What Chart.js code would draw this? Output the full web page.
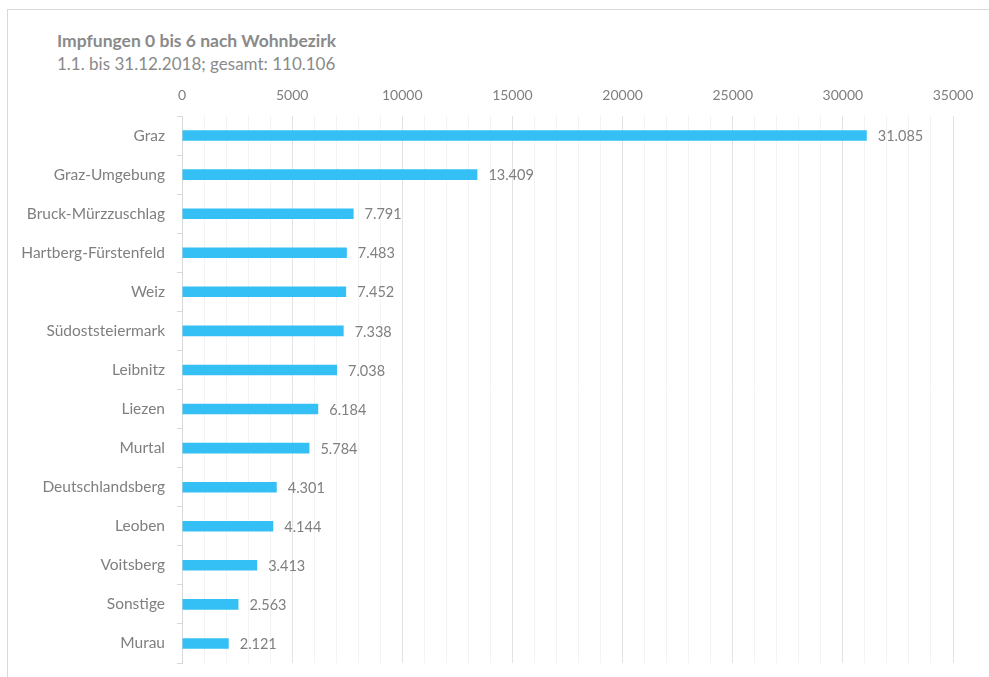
<!DOCTYPE html>
<html lang="de">
<head>
<meta charset="utf-8">
<title>Impfungen 0 bis 6 nach Wohnbezirk</title>
<script src="https://cdn.jsdelivr.net/npm/chart.js@4/dist/chart.umd.min.js"></script>
<style>
  html, body { margin: 0; padding: 0; background: #fff; }
  body { width: 989px; height: 677px; position: relative; overflow: hidden; font-family: Lato, sans-serif; }
  .frame { position: absolute; left: 7px; top: 9px; width: 1000px; height: 700px; border-left: 1px solid #d9d9d9; border-top: 1px solid #d9d9d9; }
  .title { position: absolute; left: 57px; top: 29px; color: #8a8a8a; line-height: 23px; }
  .title b { display: block; font-size: 17.5px; }
  .title span { display: block; font-size: 17px; }
  #chart { position: absolute; left: 0; top: 80px; }
</style>
</head>
<body>
<div class="frame"></div>
<div class="title">
  <b>Impfungen 0 bis 6 nach Wohnbezirk</b>
  <span>1.1. bis 31.12.2018; gesamt: 110.106</span>
</div>
<canvas id="chart" width="989" height="597"></canvas>

<script>
const districts = ['Graz', 'Graz-Umgebung', 'Bruck-Mürzzuschlag', 'Hartberg-Fürstenfeld', 'Weiz',
  'Südoststeiermark', 'Leibnitz', 'Liezen', 'Murtal', 'Deutschlandsberg', 'Leoben', 'Voitsberg',
  'Sonstige', 'Murau'];
const vaccinations = [31085, 13409, 7791, 7483, 7452, 7338, 7038, 6184, 5784, 4301, 4144, 3413, 2563, 2121];
const axisTicks = [0, 5000, 10000, 15000, 20000, 25000, 30000, 35000];

const textColor = '#7f7f7f';
const fontFamily = 'Lato, sans-serif';

// thousands with a dot, e.g. 31.085
function fmt(v) {
  return String(v).replace(/\B(?=(\d{3})+(?!\d))/g, '.');
}

// value labels right of each bar
const valueLabels = {
  id: 'valueLabels',
  afterDatasetsDraw(chart) {
    const ctx = chart.ctx;
    const meta = chart.getDatasetMeta(0);
    ctx.save();
    ctx.font = '14.5px ' + fontFamily;
    ctx.fillStyle = textColor;
    ctx.textAlign = 'left';
    ctx.textBaseline = 'middle';
    meta.data.forEach((bar, i) => {
      ctx.fillText(fmt(vaccinations[i]), bar.x + 11, bar.y + 1);
    });
    ctx.restore();
  }
};

new Chart(document.getElementById('chart'), {
  type: 'bar',
  data: {
    labels: districts,
    datasets: [{
      data: vaccinations,
      backgroundColor: '#35c0f5',
      borderWidth: 0,
      categoryPercentage: 1,
      barPercentage: 0.27
    }]
  },
  options: {
    indexAxis: 'y',
    responsive: false,
    animation: false,
    layout: { padding: { top: 0, right: 36, bottom: 14, left: 0 } },
    plugins: {
      legend: { display: false },
      tooltip: { enabled: false }
    },
    scales: {
      x: {
        position: 'top',
        min: axisTicks[0],
        max: axisTicks[axisTicks.length - 1],
        afterFit(scale) { scale.height = 36; },
        border: { display: false },
        grid: {
          drawTicks: false,
          color: (c) => axisTicks.includes(c.tick && c.tick.value) ? '#e3e3e3' : '#f3f3f3'
        },
        ticks: {
          stepSize: 1000,
          autoSkip: false,
          maxRotation: 0,
          padding: 12,
          color: textColor,
          font: { family: fontFamily, size: 14 },
          callback: (v) => axisTicks.includes(v) ? String(v) : ''
        }
      },
      y: {
        afterFit(scale) {
          scale.width = 182;
          // labels sit mid-category, so no overhang room is needed
          scale.paddingTop = 0;
          scale.paddingBottom = 0;
        },
        border: { display: true, color: '#d9d9d9' },
        grid: {
          offset: true,
          drawOnChartArea: false,
          drawTicks: true,
          tickLength: 5,
          color: '#d9d9d9'
        },
        ticks: {
          padding: 12,
          color: textColor,
          font: { family: fontFamily, size: 15.5 }
        }
      }
    }
  },
  plugins: [valueLabels]
});
</script>
</body>
</html>
